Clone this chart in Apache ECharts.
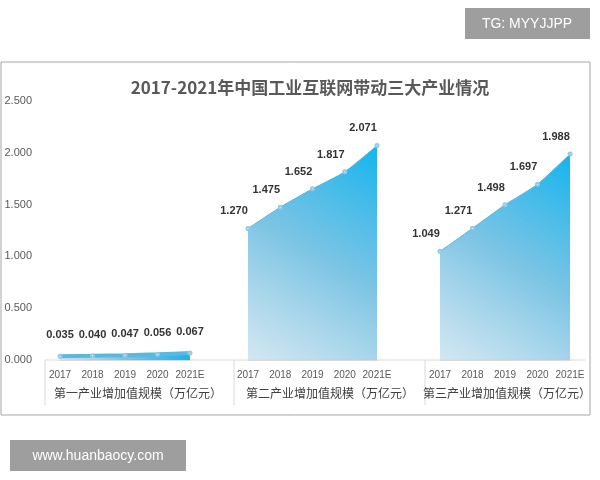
<!DOCTYPE html>
<html><head><meta charset="utf-8">
<script src="https://cdn.jsdelivr.net/npm/echarts@6/dist/echarts.min.js"></script>
<style>html,body{margin:0;padding:0;background:#fff}#c{width:600px;height:480px}</style>
</head><body><div id="c"></div>
<script>
const years = ["2017", "2018", "2019", "2020", "2021E"];
const primary = [0.035, 0.040, 0.047, 0.056, 0.067];
const secondary = [1.270, 1.475, 1.652, 1.817, 2.071];
const tertiary = [1.049, 1.271, 1.498, 1.697, 1.988];
const groupNames = ["第一产业增加值规模（万亿元）", "第二产业增加值规模（万亿元）", "第三产业增加值规模（万亿元）"];
const yTicks = [0, 0.5, 1, 1.5, 2, 2.5];

const chart = echarts.init(document.getElementById("c"));
const font = "'Noto Sans CJK SC', sans-serif";
const grids = [
  { left: 60, width: 130 },
  { left: 248, width: 129 },
  { left: 440, width: 130 },
];
const nameCenters = [138, 330, 507];

const fill = new echarts.graphic.LinearGradient(0, 1, 1, 0, [
  { offset: 0, color: "rgba(200,225,238,0.8)" },
  { offset: 0.5, color: "rgba(110,190,225,0.9)" },
  { offset: 1, color: "rgba(20,180,238,1)" },
]);

const mkSeries = (data, i) => ({
  type: "line",
  xAxisIndex: i,
  yAxisIndex: i,
  data: data,
  smooth: 0.2,
  symbol: "emptyCircle",
  symbolSize: 3,
  itemStyle: { color: "#8fcbe6", borderColor: "#8fcbe6" },
  lineStyle: { color: "#5ab8e0", width: i === 0 ? 4 : 1 },
  areaStyle: { color: fill, opacity: 1 },
  label: {
    show: true,
    formatter: (p) => p.value.toFixed(3),
    fontWeight: "bold",
    fontSize: 11,
    color: "#333",
    fontFamily: "Liberation Sans, Arial, sans-serif",
    position: "top",
    offset: i === 0 ? [0, -8] : [-14, -4],
  },
});

const option = {
  animation: false,
  title: {
    text: "2017-2021年中国工业互联网带动三大产业情况",
    left: 305, top: 74, textAlign: "center",
    textStyle: { fontSize: 17, fontWeight: "bold", color: "#595959", fontFamily: font },
  },
  grid: grids.map((g) => ({ left: g.left, width: g.width, top: 101, bottom: 120 })),
  xAxis: grids.map((g, i) => ({
    gridIndex: i,
    type: "category",
    boundaryGap: false,
    data: years,
    axisLine: { lineStyle: { color: "#d9d9d9" } },
    axisTick: { show: false },
    axisLabel: { interval: 0, color: "#595959", fontSize: 10, margin: 10, fontFamily: "Liberation Sans, Arial" },
  })),
  yAxis: grids.map((g, i) => ({
    gridIndex: i,
    type: "value",
    min: yTicks[0],
    max: yTicks[yTicks.length - 1],
    interval: 0.5,
    show: i === 0,
    axisLine: { show: false },
    axisTick: { show: false },
    splitLine: { show: false },
    axisLabel: {
      margin: 28,
      color: "#595959", fontSize: 11, fontFamily: "Liberation Sans, Arial",
      formatter: (v) => v.toFixed(3),
    },
  })),
  series: [primary, secondary, tertiary].map(mkSeries),
  graphic: [
    { type: "rect", shape: { x: 1, y: 62, width: 589, height: 353 }, style: { fill: "none", stroke: "#a6a6a6", lineWidth: 1 } },
    { type: "line", shape: { x1: 45, y1: 360, x2: 45, y2: 405 }, style: { stroke: "#d9d9d9" } },
    { type: "line", shape: { x1: 234, y1: 360, x2: 234, y2: 405 }, style: { stroke: "#d9d9d9" } },
    { type: "line", shape: { x1: 425, y1: 360, x2: 425, y2: 405 }, style: { stroke: "#d9d9d9" } },
    { type: "line", shape: { x1: 45, y1: 360, x2: 585, y2: 360 }, style: { stroke: "#d9d9d9" } },
    ...groupNames.map((t, i) => ({
      type: "text",
      x: nameCenters[i], y: 393,
      style: { text: t, fill: "#404040", font: "12px " + font, align: "center", verticalAlign: "middle" },
    })),
    { type: "rect", shape: { x: 465, y: 8, width: 125, height: 31 }, style: { fill: "#9e9e9e" } },
    { type: "text", x: 527, y: 24, style: { text: "TG: MYYJJPP", fill: "#fff", font: "14px 'Liberation Sans', Arial", align: "center", verticalAlign: "middle" } },
    { type: "rect", shape: { x: 10, y: 440, width: 176, height: 31 }, style: { fill: "#9e9e9e" } },
    { type: "text", x: 98, y: 456, style: { text: "www.huanbaocy.com", fill: "#fff", font: "14px 'Liberation Sans', Arial", align: "center", verticalAlign: "middle" } },
  ],
};
chart.setOption(option);
</script>
</body></html>
